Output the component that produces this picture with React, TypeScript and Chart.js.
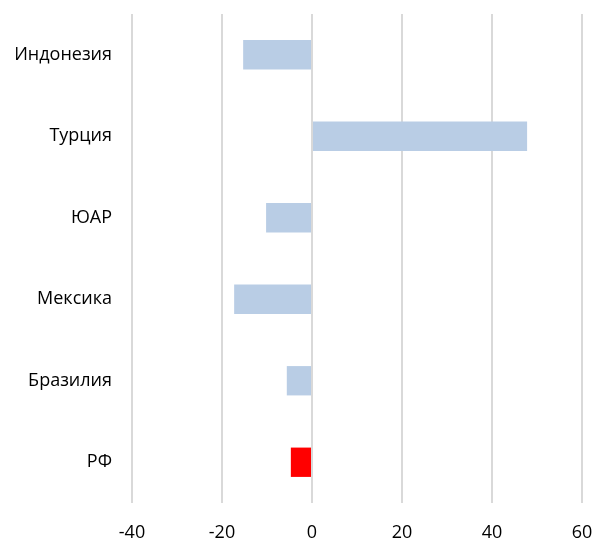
import React, { useEffect, useRef } from "react";
import { Chart, registerables } from "chart.js";

Chart.register(...registerables);

const categories = ["Индонезия", "Турция", "ЮАР", "Мексика", "Бразилия", "РФ"];
const values = [-15.3, 47.8, -10.2, -17.3, -5.6, -4.7];
const barColors = ["#b9cde5", "#b9cde5", "#b9cde5", "#b9cde5", "#b9cde5", "#ff0000"];
const xMin = -40;
const xMax = 60;
const xStep = 20;

export default function App() {
  const ref = useRef<HTMLCanvasElement | null>(null);
  useEffect(() => {
    if (!ref.current) return;
    const chart = new Chart(ref.current, {
      type: "bar",
      data: {
        labels: categories,
        datasets: [
          {
            data: values,
            backgroundColor: barColors,
            borderWidth: 0,
            categoryPercentage: 1,
            barPercentage: 0.36,
          },
        ],
      },
      options: {
        indexAxis: "y",
        animation: false,
        responsive: false,
        maintainAspectRatio: false,
        layout: { padding: { top: 14, right: 12, left: 0, bottom: 0 } },
        plugins: { legend: { display: false }, tooltip: { enabled: false } },
        scales: {
          x: {
            min: xMin,
            max: xMax,
            ticks: {
              stepSize: xStep,
              color: "#000",
              font: { family: "'Open Sans', sans-serif", size: 18 },
              padding: 19,
            },
            grid: { color: "#d9d9d9", lineWidth: 2, drawTicks: false },
            border: { display: false },
            afterFit: (s: any) => {
              s.height = 37;
              s.paddingLeft = 0;
              s.paddingRight = 0;
              s.paddingTop = 0;
              s.paddingBottom = 0;
            },
          },
          y: {
            ticks: {
              color: "#000",
              font: { family: "'Open Sans', sans-serif", size: 18 },
              padding: 20,
            },
            grid: { display: false, drawTicks: false },
            border: { display: false },
            afterFit: (s: any) => {
              s.width = 132;
              s.paddingLeft = 0;
              s.paddingRight = 0;
              s.paddingTop = 0;
              s.paddingBottom = 0;
            },
          },
        },
      },
    });
    return () => chart.destroy();
  }, []);
  return (
    <div style={{ position: "fixed", left: 0, top: 0, width: 594, height: 540, background: "#fff" }}>
      <canvas ref={ref} width={594} height={540} style={{ width: 594, height: 540 }} />
    </div>
  );
}
